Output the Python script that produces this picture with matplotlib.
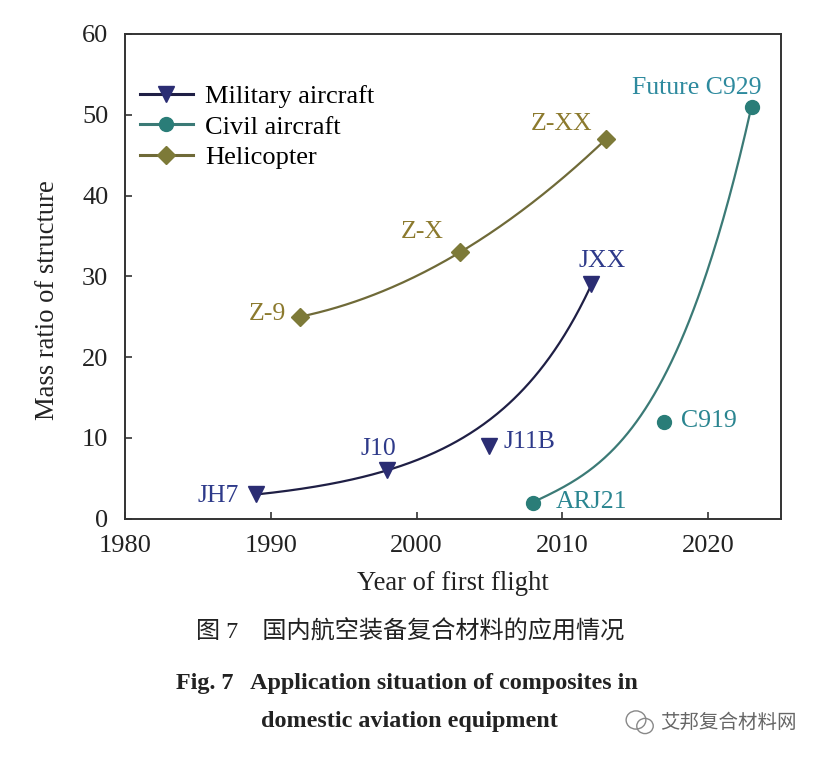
import numpy as np
import matplotlib
matplotlib.use("Agg")
import matplotlib.pyplot as plt
from matplotlib.patches import Circle

plt.rcParams['font.family'] = ['Liberation Serif', 'Noto Sans CJK SC']

# ---------------- DATA ----------------
mil_names = ['JH7', 'J10', 'J11B', 'JXX']
mil_year = [1989, 1998, 2005, 2012]
mil_ratio = [3, 6, 9, 29]

civ_names = ['ARJ21', 'C919', 'Future C929']
civ_year = [2008, 2017, 2023]
civ_ratio = [2, 12, 51]

heli_names = ['Z-9', 'Z-X', 'Z-XX']
heli_year = [1992, 2003, 2013]
heli_ratio = [25, 33, 47]

# trend curves drawn by hand in the original
mil_trend_year = [1989, 1998, 2012]
mil_trend_ratio = [3, 6, 29]
civ_trend_year = [2008, 2014, 2017, 2019.2, 2020.8, 2023]
civ_trend_ratio = [2, 10, 16.8, 27.1, 36.1, 51]
heli_trend_year = [1992, 2003, 2013]
heli_trend_ratio = [25, 33, 47]

x_ticks = [1980, 1990, 2000, 2010, 2020]
y_ticks = [0, 10, 20, 30, 40, 50, 60]

# colours
mil_c, mil_line, mil_txt = '#2b2d73', '#1f1f45', '#2e3a8a'
civ_c, civ_line, civ_txt = '#2a7d78', '#3b7a76', '#2a8590'
heli_c, heli_line, heli_txt = '#7d7a38', '#6f6a38', '#8c7a2e'

fig = plt.figure(figsize=(8.23, 7.59), dpi=100)
ax = fig.add_axes([125 / 823, 1 - 518.7 / 759, 656 / 823, 484.7 / 759])

# ---------------- TREND CURVES ----------------
xs = np.linspace(mil_trend_year[0], mil_trend_year[-1], 200)
p = np.polyfit(mil_trend_year, np.log(mil_trend_ratio), 2)
ax.plot(xs, np.exp(np.polyval(p, xs)), color=mil_line, lw=1.6, zorder=2)

xs = np.linspace(civ_trend_year[0], civ_trend_year[-1], 200)
t0 = civ_trend_year[0]
p = np.polyfit(np.array(civ_trend_year) - t0, civ_trend_ratio, 3)
ax.plot(xs, np.polyval(p, xs - t0), color=civ_line, lw=1.6, zorder=2)

xs = np.linspace(heli_trend_year[0], heli_trend_year[-1], 200)
t0 = heli_trend_year[0]
p = np.polyfit(np.array(heli_trend_year) - t0, heli_trend_ratio, 2)
ax.plot(xs, np.polyval(p, xs - t0), color=heli_line, lw=1.6, zorder=2)

# ---------------- MARKERS ----------------
ax.plot(mil_year, mil_ratio, ls='none', marker='v', ms=12, color=mil_c, zorder=3)
ax.plot(civ_year, civ_ratio, ls='none', marker='o', ms=10, color=civ_c, zorder=3)
ax.plot(heli_year, heli_ratio, ls='none', marker='D', ms=9, color=heli_c, zorder=3)

# legend handles
ax.plot([], [], color=mil_line, lw=2.2, marker='v', ms=12, mfc=mil_c, mec=mil_c,
        label='Military aircraft')
ax.plot([], [], color=civ_line, lw=2.2, marker='o', ms=10, mfc=civ_c, mec=civ_c,
        label='Civil aircraft')
ax.plot([], [], color=heli_line, lw=2.2, marker='D', ms=9, mfc=heli_c, mec=heli_c,
        label='Helicopter')
ax.legend(loc='upper left', bbox_to_anchor=(0.023, 0.895), frameon=False,
          fontsize=19, handlelength=2.0, handletextpad=0.45, labelspacing=0.26,
          borderpad=0, borderaxespad=0)

# ---------------- LABELS ----------------
mil_off = [(-17, -7.5, 'right'), (-9, 15.5, 'center'), (14, -2.5, 'left'), (11, 17.5, 'center')]
civ_off = [(23, -5.5, 'left'), (17, -5.5, 'left'), (10, 13, 'right')]
heli_off = [(-14, -3.5, 'right'), (-17, 14.5, 'right'), (-14, 9.5, 'right')]

for names, yrs, vals, offs, col in [
        (mil_names, mil_year, mil_ratio, mil_off, mil_txt),
        (civ_names, civ_year, civ_ratio, civ_off, civ_txt),
        (heli_names, heli_year, heli_ratio, heli_off, heli_txt)]:
    for n, xv, yv, (dx, dy, ha) in zip(names, yrs, vals, offs):
        c = '#2e8a9e' if n.startswith('Future') else col
        ax.annotate(n, (xv, yv), xytext=(dx, dy), textcoords='offset pixels',
                    ha=ha, va='baseline', fontsize=18.5, color=c)

# ---------------- AXES ----------------
ax.set_xlim(1980, 2025)
ax.set_ylim(0, 60)
ax.set_xticks(x_ticks)
ax.set_yticks(y_ticks)
ax.tick_params(direction='in', length=5, width=1.2, color='#333333',
               labelsize=19, labelcolor='#222222')
ax.tick_params(axis='x', pad=12)
ax.tick_params(axis='y', pad=12)
for s in ax.spines.values():
    s.set_color('#333333')
    s.set_linewidth(1.4)

fig.text(453 / 823, 1 - 583 / 759, 'Year of first flight', ha='center', va='center',
         fontsize=19.2, color='#222222')
fig.text(48 / 823, 1 - 300 / 759, 'Mass ratio of structure', ha='center', va='center',
         rotation=90, fontsize=19.2, color='#222222')

# ---------------- CAPTION ----------------
fig.text(410 / 823, 1 - 632 / 759, '图 7\u3000国内航空装备复合材料的应用情况', ha='center',
         va='center', fontsize=17.4, color='#222222')
fig.text(407 / 823, 1 - 683 / 759, 'Fig. 7   Application situation of composites in',
         ha='center', va='center', fontsize=17.4, weight='bold', color='#222222')
fig.text(409 / 823, 1 - 722 / 759, 'domestic aviation equipment', ha='center',
         va='center', fontsize=17.4, weight='bold', color='#222222')
fig.text(660 / 823, 1 - 722 / 759, '艾邦复合材料网', ha='left', va='center',
         fontsize=14, color='#666666', family=['Noto Sans CJK SC'])
fig.patches.append(Circle((636 / 823, 1 - 720 / 759), 0.012, transform=fig.transFigure,
                          fill=False, ec='#888888', lw=1))
fig.patches.append(Circle((645 / 823, 1 - 726 / 759), 0.01, transform=fig.transFigure,
                          fill=False, ec='#888888', lw=1))

fig.savefig('out.png', dpi=100)
